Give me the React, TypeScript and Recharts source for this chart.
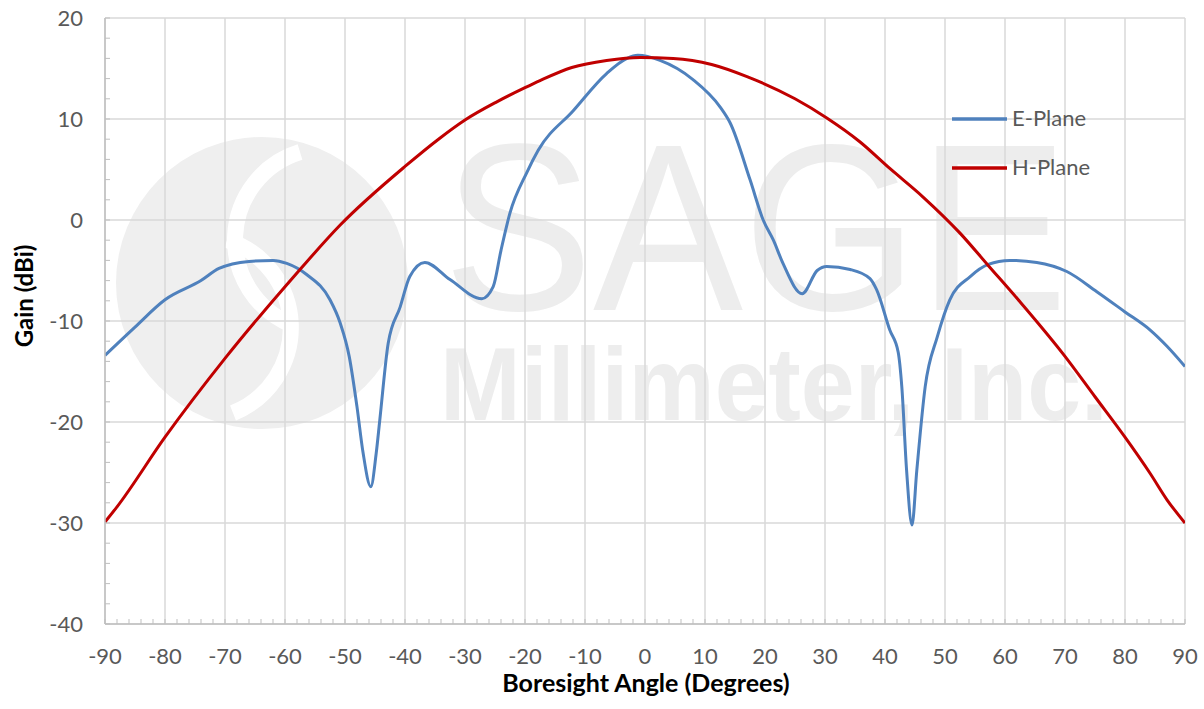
import React from 'react';
import { LineChart, Line, XAxis, YAxis, CartesianGrid } from 'recharts';

// E-Plane readings (angle in degrees, gain in dBi)
const ePlaneAngle = [
  -90, -85, -80, -74, -71, -66, -62, -59.7, -56.4, -52.5, -50.8, -49.3, -48, -47,
  -45.7, -44.8, -44.2, -42.8, -40.8, -39.2, -36.7, -32.5, -27.2, -25.3, -24, -22.5,
  -19.7, -17.8, -12, -6.4, -3, -1.2, 2.5, 8, 12.5, 14.2, 17.5, 19.7, 21.4, 23, 26.2,
  28.7, 30.3, 34.2, 37.5, 38.6, 40.8, 42.2, 42.8, 43.6, 44.5, 45.3, 46.7, 48.7, 50.8,
  54.2, 57.2, 60.8, 65.3, 70.3, 75.3, 80, 84.2, 87, 90,
];
const ePlaneGain = [
  -13.4, -10.6, -7.9, -6.0, -4.8, -4.1, -4.0, -4.3, -5.4, -7.9, -10.2, -13.5, -18.5, -23,
  -26.4, -23.1, -19.8, -12.2, -8.6, -5.6, -4.2, -5.9, -7.8, -6.6, -3.0, 0.7,
  4.7, 6.9, 10.8, 14.5, 16.0, 16.3, 15.8, 13.9, 11.2, 9.6, 4.0, 0.0, -2.0, -4.3, -7.3,
  -5.0, -4.6, -4.9, -5.8, -6.9, -10.9, -13.1, -16.5, -24.8, -30.2, -24.8, -16.5, -11.6, -7.9,
  -5.6, -4.4, -4.0, -4.2, -5.1, -7.1, -9.1, -10.9, -12.5, -14.5,
];

// H-Plane readings
const hPlaneAngle = [
  -90, -88, -80, -70, -60, -57.5, -50.8, -40, -34.2, -30, -24.7, -20, -17.5, -12.2, -6.4,
  -0.8, 4.7, 11.1, 17, 25, 30.3, 35.8, 40.8, 46.3, 52.5, 57.2, 62.5, 70, 75, 80, 84.2, 87, 90,
];
const hPlaneGain = [
  -29.9, -28.4, -21.5, -13.7, -6.6, -4.9, -0.5, 5.3, 8.1, 9.9, 11.7, 13.1, 13.8, 15.1, 15.8,
  16.1, 16.0, 15.4, 14.2, 12.0, 10.1, 7.75, 5.1, 2.3, -1.3, -4.5, -8.1, -13.5, -17.5, -21.5, -25.1, -27.7, -30,
];

const xMajorTicks = [-90, -80, -70, -60, -50, -40, -30, -20, -10, 0, 10, 20, 30, 40, 50, 60, 70, 80, 90];
const yMajorTicks = [-40, -30, -20, -10, 0, 10, 20];

// minor tick marks every 2 units
const xMinorTicks: number[] = [];
for (let v = -90; v <= 90; v += 2) xMinorTicks.push(v);
const yMinorTicks: number[] = [];
for (let v = -40; v <= 20; v += 2) yMinorTicks.push(v);

const ePlane = ePlaneAngle.map((a, i) => ({ angle: a, gain: ePlaneGain[i] }));
const hPlane = hPlaneAngle.map((a, i) => ({ angle: a, gain: hPlaneGain[i] }));

const FONT = "Lato, 'Noto Sans', sans-serif";
const TICK_COLOR = '#595959';
const AXIS_COLOR = '#bfbfbf';
const GRID_COLOR = '#d9d9d9';
const BLUE = '#4f81bd';
const RED = '#c00000';

const legendItems = [
  { name: 'E-Plane', color: BLUE },
  { name: 'H-Plane', color: RED },
];

const XTick = ({ x, y, payload }: any) => (
  <g>
    <line x1={x} x2={x} y1={y} y2={y - 5} stroke={AXIS_COLOR} strokeWidth={1} />
    {payload.value % 10 === 0 && (
      <text x={x} y={y + 40} textAnchor="middle" fill={TICK_COLOR} fontSize={22} fontFamily={FONT}>
        {payload.value}
      </text>
    )}
  </g>
);

const YTick = ({ x, y, payload }: any) => (
  <g>
    <line x1={x} x2={x + 5} y1={y} y2={y} stroke={AXIS_COLOR} strokeWidth={1} />
    {payload.value % 10 === 0 && (
      <text x={x - 22} y={y + 8} textAnchor="end" fill={TICK_COLOR} fontSize={22} fontFamily={FONT}>
        {payload.value}
      </text>
    )}
  </g>
);

// faint company watermark sitting behind the plot
const Watermark = () => (
  <svg width={1204} height={709} style={{ position: 'absolute', left: 0, top: 0 }}>
    <circle cx={262} cy={283} r={146} fill="#efefef" />
    <path d="M 227 240 A 92 92 0 0 1 233 413" fill="none" stroke="#fff" strokeWidth={16} />
    <path d="M 300 152 A 92 92 0 0 0 292 325" fill="none" stroke="#fff" strokeWidth={16} />
    <text x={443} y={310} fontSize={237} fontFamily="'Liberation Sans', Arial, sans-serif" fill="#ededed"
      textLength={625} lengthAdjust="spacingAndGlyphs">SAGE</text>
    <text x={440} y={420} fontSize={104} fontWeight="bold" fontFamily="'Liberation Sans', Arial, sans-serif" fill="#ededed"
      textLength={668} lengthAdjust="spacingAndGlyphs">Millimeter, Inc.</text>
  </svg>
);

export default function App() {
  return (
    <div style={{ position: 'absolute', left: 0, top: 0, width: 1204, height: 709, background: '#fff' }}>
      <Watermark />
      <LineChart width={1204} height={709} margin={{ top: 18, right: 19, bottom: 0, left: 0 }}>
        <CartesianGrid
          stroke={GRID_COLOR}
          strokeWidth={1.5}
          horizontalValues={yMajorTicks}
          verticalValues={xMajorTicks}
        />
        <XAxis
          dataKey="angle"
          type="number"
          domain={[-90, 90]}
          ticks={xMinorTicks}
          interval={0}
          height={85}
          tickLine={false}
          tickSize={0}
          tickMargin={0}
          tick={<XTick />}
          axisLine={{ stroke: AXIS_COLOR, strokeWidth: 1.5 }}
          allowDataOverflow
        />
        <YAxis
          type="number"
          domain={[-40, 20]}
          ticks={yMinorTicks}
          interval={0}
          width={105}
          tickLine={false}
          tickSize={0}
          tickMargin={0}
          tick={<YTick />}
          axisLine={{ stroke: AXIS_COLOR, strokeWidth: 1.5 }}
          allowDataOverflow
        />
        <Line data={ePlane} dataKey="gain" name="E-Plane" type="monotone" stroke={BLUE} strokeWidth={3}
          dot={false} activeDot={false} isAnimationActive={false} />
        <Line data={hPlane} dataKey="gain" name="H-Plane" type="monotone" stroke={RED} strokeWidth={3}
          dot={false} activeDot={false} isAnimationActive={false} />
      </LineChart>
      <svg width={1204} height={709} style={{ position: 'absolute', left: 0, top: 0, pointerEvents: 'none' }}>
        <text x={33} y={296} transform="rotate(-90 33 296)" textAnchor="middle" fontSize={24} fontWeight="bold"
          fontFamily={FONT} fill="#000">Gain (dBi)</text>
        <text x={646} y={692} textAnchor="middle" fontSize={25} fontWeight="bold" fontFamily={FONT}
          fill="#000">Boresight Angle (Degrees)</text>
        {legendItems.map((item, i) => (
          <g key={item.name}>
            <line x1={952} x2={1007} y1={119 + i * 49} y2={119 + i * 49} stroke={item.color} strokeWidth={3.5} />
            <text x={1012} y={126 + i * 49} fontSize={22} fontFamily={FONT} fill={TICK_COLOR}>{item.name}</text>
          </g>
        ))}
      </svg>
    </div>
  );
}
